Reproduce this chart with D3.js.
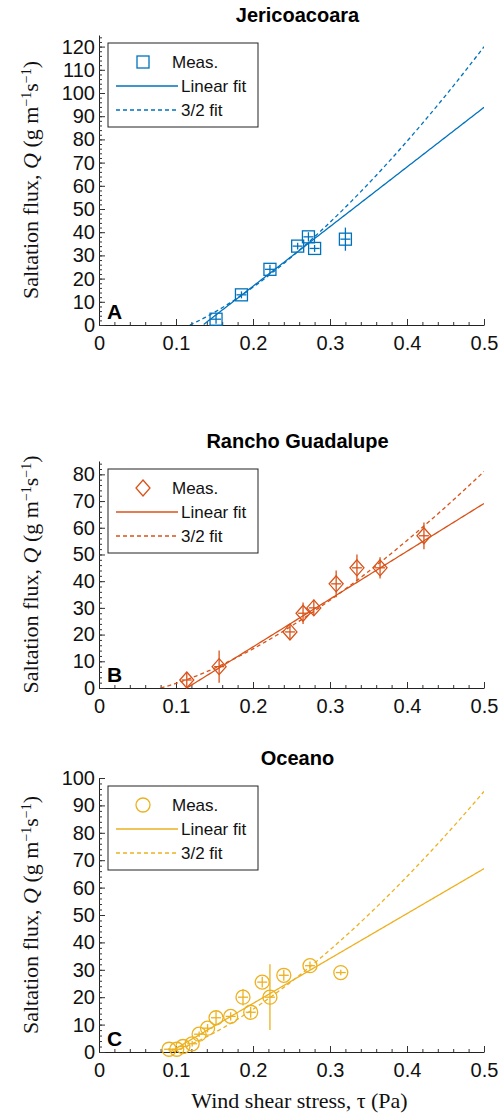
<!DOCTYPE html>
<html><head><meta charset="utf-8">
<script src="https://cdn.jsdelivr.net/npm/d3@7"></script>
<style>body{margin:0;background:#fff}</style>
</head><body><div id="chart"></div>
<script>
// measured data per site
var sites = ["Jericoacoara", "Rancho Guadalupe", "Oceano"];
var letters = ["A", "B", "C"];
var colors = ["#0072BD", "#D95319", "#EDB120"];
var markers = ["square", "diamond", "circle"];
var yMax = [125, 85, 100];
var yTickStep = [10, 10, 10];
var xTicks = [0, 0.1, 0.2, 0.3, 0.4, 0.5];

var tauA = [0.152, 0.185, 0.222, 0.258, 0.272, 0.280, 0.320];
var qA = [2.5, 13, 24, 34, 38, 33, 37];
var errA = [2, 1.5, 2, 1.5, 2, 1.5, 5];

var tauB = [0.114, 0.156, 0.248, 0.265, 0.279, 0.308, 0.335, 0.365, 0.422];
var qB = [3, 8, 21, 28, 30, 39, 45, 45, 57];
var errB = [3, 6, 3, 4, 3, 5, 5, 4, 5];

var tauC = [0.091, 0.101, 0.109, 0.121, 0.130, 0.141, 0.152, 0.171, 0.187, 0.197, 0.212, 0.222, 0.240, 0.274, 0.314];
var qC = [1, 1, 2, 3, 6.5, 8.7, 12.5, 13, 20, 14.5, 25.5, 20, 28, 31.5, 29];
var errC = [0.5, 0.5, 0.8, 1, 1, 1.5, 2.5, 1.5, 3, 2, 2, 12, 2, 1.5, 1];

// fit parameters: linear Q = a(tau - t), 3/2 Q = c(tau - t) sqrt(tau)
var linA = [257, 0.135], lin32A = [444, 0.118];
var linB = [179, 0.114], lin32B = [273, 0.080];
var linC = [164, 0.092], lin32C = [332, 0.095];

var data = [
  {tau: tauA, q: qA, err: errA, lin: linA, f32: lin32A},
  {tau: tauB, q: qB, err: errB, lin: linB, f32: lin32B},
  {tau: tauC, q: qC, err: errC, lin: linC, f32: lin32C}
];

var W = 501, H = 1117;
var svg = d3.select("#chart").append("svg").attr("width", W).attr("height", H);
var x0 = 99, x1 = 484;
var panels = [{top: 35, bot: 325}, {top: 461, bot: 688}, {top: 778, bot: 1052}];
var sans = "Helvetica, Arial, 'Liberation Sans', sans-serif";
var serif = "'Liberation Serif', 'DejaVu Serif', serif";

data.forEach(function(d, i) {
  var p = panels[i], col = colors[i];
  var x = d3.scaleLinear().domain([0, 0.5]).range([x0, x1]);
  var y = d3.scaleLinear().domain([0, yMax[i]]).range([p.bot, p.top]);
  var g = svg.append("g");
  g.append("clipPath").attr("id", "clip" + i).append("rect")
    .attr("x", x0).attr("y", p.top).attr("width", x1 - x0).attr("height", p.bot - p.top);

  // axes
  var yt = d3.range(0, yMax[i] + 0.01, yTickStep[i]);
  var ax = g.append("g").attr("transform", "translate(0," + p.bot + ")")
    .call(d3.axisBottom(x).tickValues(xTicks).tickFormat(d3.format("")).tickSizeInner(-6).tickSizeOuter(0));
  g.append("g").attr("transform", "translate(0," + p.bot + ")")
    .call(d3.axisBottom(x).tickValues(d3.range(0, 0.501, 0.02)).tickFormat("").tickSizeInner(-3).tickSizeOuter(0))
    .select(".domain").remove();
  var ay = g.append("g").attr("transform", "translate(" + x0 + ",0)")
    .call(d3.axisLeft(y).tickValues(yt).tickSizeInner(-6).tickSizeOuter(0));
  g.append("g").attr("transform", "translate(" + x0 + ",0)")
    .call(d3.axisLeft(y).tickValues(d3.range(0, yMax[i] + 0.01, 2)).tickFormat("").tickSizeInner(-3).tickSizeOuter(0))
    .select(".domain").remove();
  [ax, ay].forEach(function(a) {
    a.selectAll("text").attr("font-family", sans).attr("font-size", 20).attr("fill", "#111");
    a.select(".domain").attr("stroke", "#222");
  });
  ax.selectAll("text").attr("dy", "1.1em");
  ay.selectAll("text").attr("dx", "-1");
  g.selectAll(".tick line").attr("stroke", "#333");

  // fits
  var ts = d3.range(0, 0.5001, 0.002);
  var line = d3.line().x(function(t) { return x(t[0]); }).y(function(t) { return y(t[1]); });
  var plot = g.append("g").attr("clip-path", "url(#clip" + i + ")");
  var linPts = ts.filter(function(t) { return t >= d.lin[1]; }).map(function(t) { return [t, d.lin[0] * (t - d.lin[1])]; });
  var f32Pts = ts.filter(function(t) { return t >= d.f32[1]; }).map(function(t) { return [t, d.f32[0] * (t - d.f32[1]) * Math.sqrt(t)]; });
  plot.append("path").attr("d", line(linPts)).attr("fill", "none").attr("stroke", col).attr("stroke-width", 1.3);
  plot.append("path").attr("d", line(f32Pts)).attr("fill", "none").attr("stroke", col).attr("stroke-width", 1.3).attr("stroke-dasharray", "4,3");

  // points
  function marker(sel, cx, cy, type) {
    if (type === "square") sel.append("rect").attr("x", cx - 6).attr("y", cy - 6).attr("width", 12).attr("height", 12);
    else if (type === "diamond") sel.append("path").attr("d", "M" + cx + "," + (cy - 8) + "L" + (cx + 7) + "," + cy + "L" + cx + "," + (cy + 8) + "L" + (cx - 7) + "," + cy + "Z");
    else sel.append("circle").attr("cx", cx).attr("cy", cy).attr("r", 7);
  }
  d.tau.forEach(function(t, k) {
    var cx = x(t), cy = y(d.q[k]);
    var pg = g.append("g").attr("stroke", col).attr("fill", "none").attr("stroke-width", 1.3);
    pg.append("line").attr("x1", cx).attr("x2", cx).attr("y1", y(Math.max(0, d.q[k] - d.err[k]))).attr("y2", y(d.q[k] + d.err[k]));
    pg.append("line").attr("x1", cx - 5).attr("x2", cx + 5).attr("y1", cy).attr("y2", cy);
    marker(pg, cx, cy, markers[i]);
  });

  // title, letter
  g.append("text").attr("x", (x0 + x1) / 2 + 6).attr("y", p.top - 13).attr("text-anchor", "middle")
    .attr("font-family", sans).attr("font-weight", "bold").attr("font-size", 20).text(sites[i]);
  g.append("text").attr("x", x0 + 8).attr("y", p.bot - 6).attr("font-family", sans)
    .attr("font-weight", "bold").attr("font-size", 21).text(letters[i]);

  // legend
  var ly = p.top + 8;
  var lg = g.append("g").attr("transform", "translate(108," + ly + ")");
  lg.append("rect").attr("width", 150).attr("height", 84).attr("fill", "#fff").attr("stroke", "#222").attr("stroke-width", 1);
  var labels = ["Meas.", "Linear fit", "3/2 fit"];
  labels.forEach(function(lab, k) {
    var yy = 19 + k * 24;
    var lgi = lg.append("g").attr("stroke", col).attr("fill", "none").attr("stroke-width", 1.3);
    if (k === 0) marker(lgi, 35, yy, markers[i]);
    else lgi.append("line").attr("x1", 8).attr("x2", 70).attr("y1", yy).attr("y2", yy)
      .attr("stroke-dasharray", k === 2 ? "4,3" : null);
    lg.append("text").attr("x", k === 0 ? 64 : 73).attr("y", yy + 6).attr("font-family", sans)
      .attr("font-size", 17).attr("fill", "#111").text(lab);
  });

  // y label
  var yl = svg.append("text").attr("transform", "translate(38," + ((p.top + p.bot) / 2) + ") rotate(-90)")
    .attr("text-anchor", "middle").attr("font-family", serif).attr("font-size", 22).attr("fill", "#111");
  yl.append("tspan").text("Saltation flux, ");
  yl.append("tspan").attr("font-style", "italic").text("Q");
  yl.append("tspan").text(" (g m");
  yl.append("tspan").attr("baseline-shift", "super").attr("font-size", 14).text("\u22121");
  yl.append("tspan").text("s");
  yl.append("tspan").attr("baseline-shift", "super").attr("font-size", 14).text("\u22121");
  yl.append("tspan").text(")");
});

svg.append("text").attr("x", (x0 + x1) / 2 + 8).attr("y", 1108).attr("text-anchor", "middle")
  .attr("font-family", serif).attr("font-size", 22).attr("fill", "#111").text("Wind shear stress, \u03c4 (Pa)");
</script>
</body></html>
